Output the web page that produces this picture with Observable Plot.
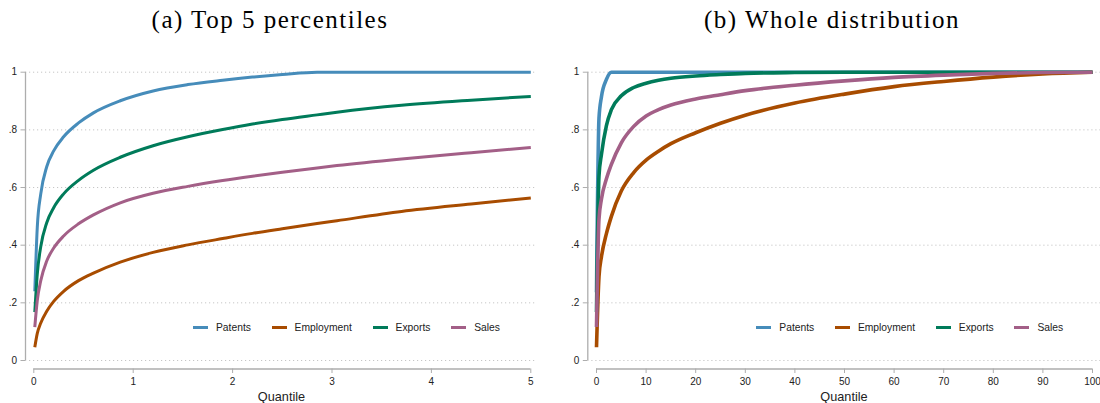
<!DOCTYPE html>
<html>
<head>
<meta charset="utf-8">
<script src="https://cdn.jsdelivr.net/npm/d3@7"></script>
<script src="https://cdn.jsdelivr.net/npm/@observablehq/plot@0.6"></script>
<style>
  html, body { margin: 0; padding: 0; background: #fff; }
  #root { position: relative; width: 1100px; height: 403px; overflow: hidden; font-family: "Liberation Sans", Arial, sans-serif; }
  .title { position: absolute; top: 7.4px; font-family: "Liberation Serif", serif; font-size: 25px; line-height: 25px; letter-spacing: 1.5px; white-space: nowrap; color: #000; transform: translateX(-50%); }
  .panel { position: absolute; top: 45px; }
  .xlabel { position: absolute; top: 390.5px; font-size: 12.7px; line-height: 12.7px; color: #222; white-space: nowrap; transform: translateX(-50%); }
  .legend { position: absolute; top: 321.5px; height: 12px; display: flex; align-items: center; gap: 20.7px; font-size: 10.3px; line-height: 12px; color: #222; white-space: nowrap; }
  .item { display: flex; align-items: center; }
  .sw { display: inline-block; width: 15px; height: 3px; margin-right: 8px; }
</style>
</head>
<body>
<div id="root">
  <div class="title" style="left:270px">(a) Top 5 percentiles</div>
  <div class="title" style="left:832px">(b) Whole distribution</div>
  <div class="panel" id="left" style="left:0px"></div>
  <div class="panel" id="right" style="left:550px"></div>
  <div class="xlabel" id="xlabL" style="left:281.5px"></div>
  <div class="xlabel" id="xlabR" style="left:844px"></div>
  <div class="legend" id="legL" style="left:193px"></div>
  <div class="legend" id="legR" style="left:756.3px"></div>
</div>
<script>
// ---- data ----
const series = ["Patents", "Employment", "Exports", "Sales"];
const colors = ["#468cba", "#a84c00", "#007b5a", "#a35f87"];
const yTicks = [0, 0.2, 0.4, 0.6, 0.8, 1];
const xTicksLeft = [0, 1, 2, 3, 4, 5];
const xTicksRight = [0, 10, 20, 30, 40, 50, 60, 70, 80, 90, 100];
const xLabel = "Quantile";

// (a) Top 5 percentiles
const leftX = [0.01, 0.035, 0.07, 0.13, 0.2, 0.3, 0.45, 0.6, 0.87, 1.2, 1.55, 1.9, 2.2, 2.5, 2.85, 3.05, 3.7, 4.4, 5];
const leftPatents    = [0.24, 0.462, 0.578, 0.672, 0.727, 0.776, 0.824, 0.859, 0.901, 0.935, 0.957, 0.972, 0.983, 0.992, 1, 1, 1, 1, 1];
const leftEmployment = [0.046, 0.094, 0.13, 0.171, 0.205, 0.24, 0.277, 0.303, 0.341, 0.375, 0.401, 0.423, 0.441, 0.457, 0.475, 0.485, 0.517, 0.543, 0.564];
const leftExports    = [0.168, 0.30, 0.395, 0.478, 0.53, 0.578, 0.625, 0.66, 0.705, 0.745, 0.776, 0.801, 0.82, 0.836, 0.852, 0.861, 0.885, 0.903, 0.916];
const leftSales      = [0.116, 0.208, 0.277, 0.345, 0.39, 0.432, 0.474, 0.505, 0.547, 0.58, 0.604, 0.624, 0.639, 0.653, 0.668, 0.676, 0.699, 0.721, 0.739];

// (b) Whole distribution
const rightX = [0, 0.5, 1, 2, 3, 5, 7.5, 10, 12.5, 15, 20, 25, 30, 40, 50, 60, 70, 80, 90, 100];
const rightPatents    = [0.237, 0.84, 0.915, 0.975, 1, 1, 1, 1, 1, 1, 1, 1, 1, 1, 1, 1, 1, 1, 1, 1];
const rightEmployment = [0.046, 0.29, 0.36, 0.44, 0.50, 0.588, 0.652, 0.695, 0.726, 0.752, 0.79, 0.823, 0.851, 0.893, 0.924, 0.95, 0.968, 0.983, 0.994, 1];
const rightExports    = [0.168, 0.64, 0.715, 0.815, 0.87, 0.918, 0.947, 0.962, 0.972, 0.979, 0.987, 0.992, 0.996, 0.999, 1, 1, 1, 1, 1, 1];
const rightSales      = [0.116, 0.49, 0.56, 0.63, 0.68, 0.755, 0.812, 0.848, 0.87, 0.886, 0.907, 0.922, 0.936, 0.955, 0.97, 0.982, 0.99, 0.996, 0.999, 1];

// ---- build ----
function toLong(xs, cols) {
  const out = [];
  series.forEach((s, i) => xs.forEach((x, j) => out.push({series: s, x, y: cols[i][j]})));
  return out;
}
const leftData = toLong(leftX, [leftPatents, leftEmployment, leftExports, leftSales]);
const rightData = toLong(rightX, [rightPatents, rightEmployment, rightExports, rightSales]);

const fmtY = d => d === 0 ? "0" : d === 1 ? "1" : String(d).replace(/^0/, "");
const axisColor = "#adadad";

function panel(data, xDomain, xTicks, opts) {
  return Plot.plot({
    width: 550,
    height: 358,
    marginTop: 26.7,
    marginBottom: 34.5,
    marginLeft: opts.marginLeft,
    marginRight: opts.marginRight,
    style: {fontFamily: "Liberation Sans, Arial, sans-serif", fontSize: "10px", background: "#fff", overflow: "visible"},
    x: {domain: xDomain, insetLeft: opts.insetLeft, insetRight: opts.insetRight},
    y: {domain: [0, 1], insetBottom: 8.5},
    color: {domain: series, range: colors},
    marks: [
      Plot.gridY(yTicks, {stroke: "#c6c6c6", strokeOpacity: 1, strokeWidth: 1, strokeDasharray: "1.2,2.8"}),
      Plot.ruleX([xDomain[0]], {y1: 0, y2: 1, dx: -opts.insetLeft, stroke: axisColor, strokeWidth: 1.3}),
      Plot.ruleY([0], {x1: xDomain[0], x2: xDomain[1], dy: 8.5, stroke: axisColor, strokeWidth: 1.3}),
      Plot.axisY({ticks: yTicks, tickFormat: fmtY, tickSize: 4.5, tickPadding: 4, stroke: axisColor, fill: "#222", fontSize: 10, label: null}),
      Plot.axisX({ticks: xTicks, tickFormat: d => String(d), tickSize: 4.5, tickPadding: 4, stroke: axisColor, fill: "#222", fontSize: 10, label: null}),
      Plot.line(data, {x: "x", y: "y", z: "series", stroke: "series", strokeWidth: opts.sw, curve: "monotone-x", strokeLinecap: "butt", strokeLinejoin: "round"})
    ]
  });
}

document.getElementById("left").appendChild(
  panel(leftData, [0, 5], xTicksLeft, {marginLeft: 25, marginRight: 13, insetLeft: 8.3, insetRight: 6.7, sw: 3})
);
document.getElementById("right").appendChild(
  panel(rightData, [0, 100], xTicksRight, {marginLeft: 37.3, marginRight: 0, insetLeft: 8.7, insetRight: 8, sw: 3.6})
);

document.getElementById("xlabL").textContent = xLabel;
document.getElementById("xlabR").textContent = xLabel;

for (const id of ["legL", "legR"]) {
  const leg = document.getElementById(id);
  series.forEach((s, i) => {
    const item = document.createElement("div");
    item.className = "item";
    const sw = document.createElement("span");
    sw.className = "sw";
    sw.style.background = colors[i];
    const t = document.createElement("span");
    t.textContent = s;
    item.appendChild(sw);
    item.appendChild(t);
    leg.appendChild(item);
  });
}
</script>
</body>
</html>
